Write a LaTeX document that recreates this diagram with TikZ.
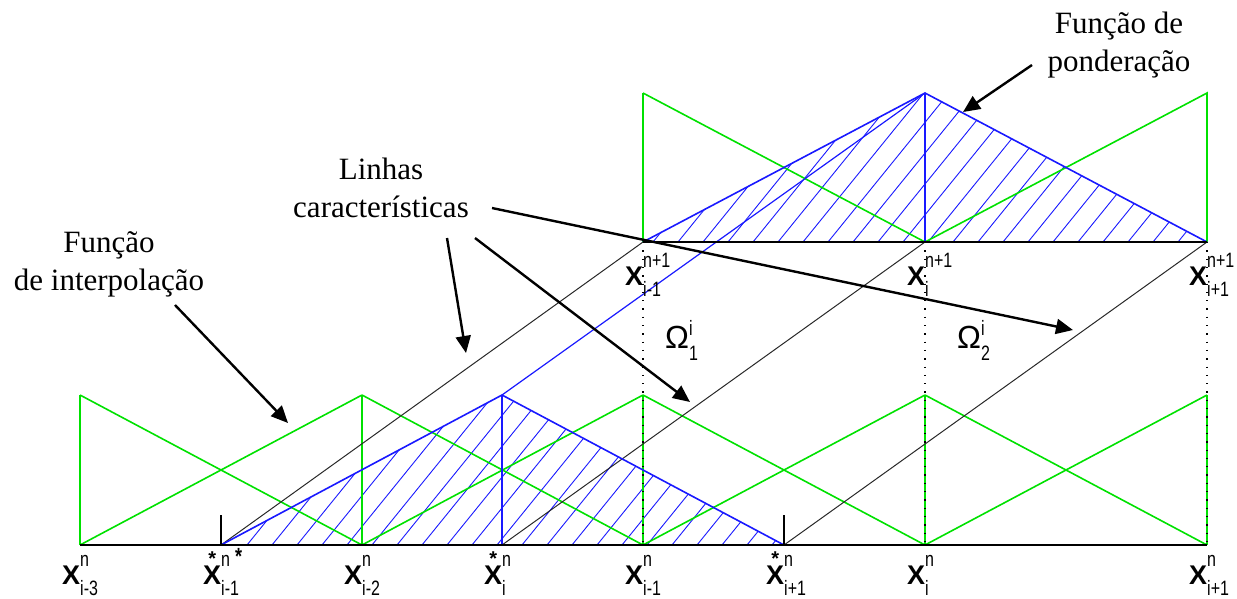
\documentclass[tikz,border=0pt]{standalone}
\usepackage{fontspec}
\setmainfont{Liberation Serif}
\newfontfamily\arialfont{Liberation Sans}
\usepackage{graphicx}
\usetikzlibrary{arrows.meta, positioning, calc}
\definecolor{hatgreen}{RGB}{0,225,0}
\definecolor{wblue}{RGB}{25,25,255}
\definecolor{charline}{RGB}{40,40,40}

% script size for the indices
\newcommand{\scr}[1]{\scalebox{1}[1.3]{\fontsize{16}{16}\selectfont #1}}
\newcommand{\Xbig}{{\fontsize{27}{27}\selectfont\bfseries X}}
\newcommand{\Xstar}{\ooalign{\Xbig\cr\hidewidth\raisebox{19pt}{\fontsize{20}{20}\selectfont\bfseries *}\hidewidth\cr}}
% #1 = letter, #2 = sup, #3 = sub
\newcommand{\xlab}[3]{\arialfont\llap{#1}\rlap{\raisebox{18pt}{\scr{#2}}}\raisebox{-11pt}{\scr{#3}}}
\newcommand{\omlab}[1]{\arialfont{\fontsize{32}{32}\selectfont Ω}\rlap{\raisebox{13pt}{\scr{i}}}\raisebox{-12pt}{\scr{#1}}}

\begin{document}
\begin{tikzpicture}[x=1pt,y=-1pt,
  hat/.style={hatgreen, line width=1.6pt},
  wfun/.style={wblue, line width=1.6pt},
  hatch/.style={wblue, line width=0.9pt},
  charl/.style={charline, line width=1pt},
  axis/.style={black, line width=2pt},
  guide/.style={black, line width=1.3pt, dash pattern=on 1.3pt off 7pt},
  pointer/.style={line width=2.4pt, -{Triangle[length=17pt,width=15pt]}},
  xlabel/.style={anchor=base west, inner sep=0pt},
  callout/.style={align=center, font=\fontsize{31}{38}\selectfont, inner sep=0pt}]
  \useasboundingbox (0,0) rectangle (1237,598);

  % grid points, time level n (bottom) and n+1 (top)
  \foreach \k/\x in {0/80, 1/362, 2/643, 3/925, 4/1207} {
    \coordinate (b\k) at (\x,545);
    \coordinate (a\k) at (\x,395);
  }
  \foreach \k/\x in {1/221, 2/502, 3/784} {
    \coordinate (s\k) at (\x,545);
  }
  \coordinate (p) at (502,395);
  \foreach \k in {2,3,4} {
    \coordinate (t\k) at ($(b\k)+(0,-303)$);
    \coordinate (u\k) at ($(b\k)+(0,-452)$);
  }

  % hatching of the weighting function
  \begin{scope}
    \clip (s1) -- (p) -- (s3) -- cycle;
    \foreach \s in {97,122,...,797} {
      \draw[hatch] (\s,545) -- ++(150,-185);
    }
  \end{scope}
  \begin{scope}
    \clip (t2) -- (u3) -- (t4) -- cycle;
    \foreach \s in {528,553,...,1203} {
      \draw[hatch] (\s,242) -- ++(150,-185);
    }
  \end{scope}

  % interpolation functions
  \foreach \k in {0,...,3} {
    \pgfmathtruncatemacro{\kn}{\k+1}
    \draw[hat] (a\k) -- (b\kn);
    \draw[hat] (b\k) -- (a\kn);
  }
  \foreach \k in {0,...,4} {
    \draw[hat] (b\k) -- (a\k);
  }
  \draw[hat] (t2) -- (u2);
  \draw[hat] (u2) -- (t3) -- (u4) -- (t4);

  % guides between the levels
  \foreach \k in {2,3,4} {
    \draw[guide] (t\k) -- (b\k);
  }

  % characteristic lines
  \draw[charl] (s1) -- (t2);
  \draw[charl] (s2) -- (t3);
  \draw[charl] (s3) -- (t4);

  % weighting function
  \draw[wfun] (s1) -- (p) -- (s3);
  \draw[wblue, line width=2pt] (p) -- (s2);
  \draw[wblue, line width=1.2pt] (p) -- (u3);
  \draw[wfun] (t2) -- (u3) -- (t4);
  \draw[wblue, line width=2pt] (u3) -- (t3);

  % axes
  \draw[axis] (b0) -- (b4);
  \draw[axis] (t2) -- (t4);
  \draw[black, line width=1.3pt] (s1) -- ++(0,-30);
  \draw[black, line width=1.3pt] (s3) -- ++(0,-30);

  % labels
  \node[xlabel] (lb0) at (80,584) {\xlab{\Xbig}{n}{i-3}};
  \node[xlabel] (ls1) at (221,584) {\xlab{\Xstar}{n\hspace{5pt}\raisebox{1pt}{\bfseries\fontsize{18}{18}\selectfont *}}{i-1}};
  \node[xlabel] (lb1) at (362,584) {\xlab{\Xbig}{n}{i-2}};
  \node[xlabel] (ls2) at (502,584) {\xlab{\Xstar}{n}{i}};
  \node[xlabel] (lb2) at (643,584) {\xlab{\Xbig}{n}{i-1}};
  \node[xlabel] (ls3) at (784,584) {\xlab{\Xstar}{n}{i+1}};
  \node[xlabel] (lb3) at (925,584) {\xlab{\Xbig}{n}{i}};
  \node[xlabel] (lb4) at (1207,584) {\xlab{\Xbig}{n}{i+1}};
  \node[xlabel] (lt2) at (643,285) {\xlab{\Xbig}{n+1}{i-1}};
  \node[xlabel] (lt3) at (925,285) {\xlab{\Xbig}{n+1}{i}};
  \node[xlabel] (lt4) at (1207,285) {\xlab{\Xbig}{n+1}{i+1}};
  \node[xlabel] (om1) at (665,348) {\omlab{1}};
  \node[xlabel] (om2) at (957,348) {\omlab{2}};

  % callouts
  \node[callout] (interp) at (109,264) {Função\\de interpolação};
  \node[callout] (linhas) at (381,188) {Linhas\\características};
  \node[callout] (pond) at (1119,45) {Função de\\ponderação};

  \coordinate (interp-tip) at (288,423);
  \coordinate (linhas-tip1) at (466,353);
  \coordinate (linhas-tip2) at (690,402);
  \coordinate (linhas-tip3) at (1073,330);
  \coordinate (pond-tip) at (963,112);

  \draw[pointer] ([shift={(66,41)}]interp.center) -- (interp-tip);
  \draw[pointer] ([shift={(66,50)}]linhas.center) -- (linhas-tip1);
  \draw[pointer] ([shift={(94,50)}]linhas.center) -- (linhas-tip2);
  \draw[pointer] ([shift={(111,20)}]linhas.center) -- (linhas-tip3);
  \draw[pointer] ([shift={(-87,20)}]pond.center) -- (pond-tip);
\end{tikzpicture}
\end{document}
